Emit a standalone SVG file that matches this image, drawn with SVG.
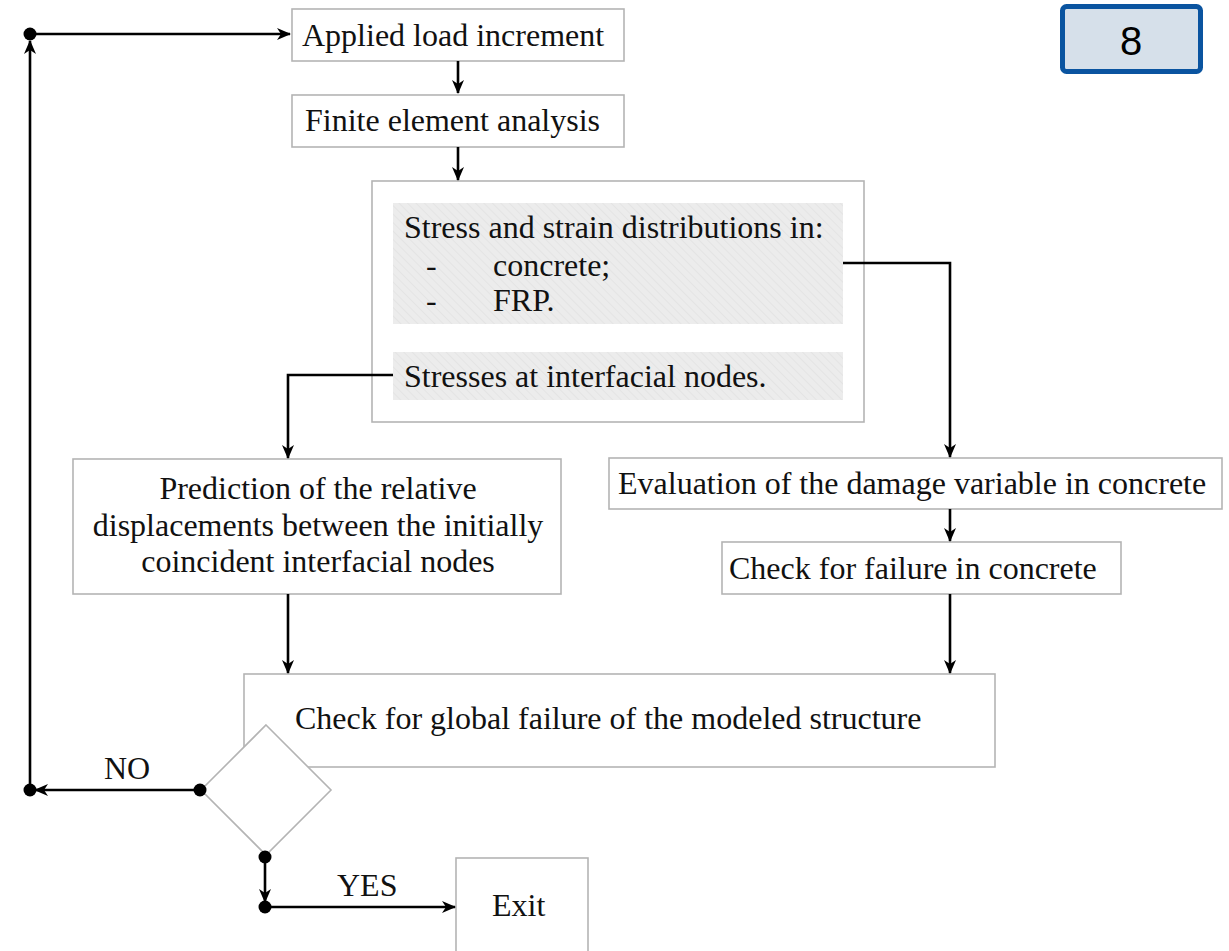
<svg xmlns="http://www.w3.org/2000/svg" width="1229" height="951" viewBox="0 0 1229 951">
<style>
.box{fill:#fff;stroke:#b4b4b4;stroke-width:1.6}
.shade{fill:url(#hatch);stroke:none}
.t{font-family:"Liberation Serif","Times New Roman",serif;font-size:32px;fill:#111}
.c{fill:none;stroke:#000;stroke-width:2.6}
.dot{fill:#000}
</style>
<defs>
<pattern id="hatch" width="6" height="6" patternUnits="userSpaceOnUse" patternTransform="rotate(-45)">
<rect width="6" height="6" fill="#ececec"/>
<line x1="0" y1="0" x2="0" y2="6" stroke="#e2e2e2" stroke-width="1.5"/>
</pattern>
<marker id="ah" viewBox="0 0 14 12" markerWidth="14" markerHeight="12" refX="13" refY="6" orient="auto" markerUnits="userSpaceOnUse">
<path d="M0,0 L14,6 L0,12 L4,6 z" fill="#000"/>
</marker>
</defs>
<rect width="1229" height="951" fill="#fff"/>

<g id="applied">
<rect class="box" x="292" y="9" width="332" height="52"/>
<text class="t" x="302" y="46">Applied load increment</text>
</g>
<g id="fea">
<rect class="box" x="292" y="95" width="332" height="52"/>
<text class="t" x="305" y="131">Finite element analysis</text>
</g>
<g id="container">
<rect class="box" x="372" y="181" width="492" height="241"/>
</g>
<g id="distributions">
<rect class="shade" x="393" y="203" width="450" height="121"/>
<text class="t" x="404" y="238">Stress and strain distributions in:</text>
<text class="t" x="426" y="276">-</text>
<text class="t" x="493" y="276">concrete;</text>
<text class="t" x="426" y="311">-</text>
<text class="t" x="493" y="311">FRP.</text>
</g>
<g id="interfacial">
<rect class="shade" x="393" y="352" width="450" height="48"/>
<text class="t" x="404" y="387">Stresses at interfacial nodes.</text>
</g>
<g id="prediction">
<rect class="box" x="73" y="459" width="488" height="135"/>
<text class="t" x="318" y="499" text-anchor="middle">Prediction of the relative</text>
<text class="t" x="318" y="536" text-anchor="middle">displacements between the initially</text>
<text class="t" x="318" y="572" text-anchor="middle">coincident interfacial nodes</text>
</g>
<g id="evaluation">
<rect class="box" x="609" y="458" width="613" height="51"/>
<text class="t" x="618" y="494">Evaluation of the damage variable in concrete</text>
</g>
<g id="checkconcrete">
<rect class="box" x="722" y="542" width="399" height="52"/>
<text class="t" x="729" y="579">Check for failure in concrete</text>
</g>
<g id="global">
<rect class="box" x="244" y="674" width="751" height="93"/>
<text class="t" x="295" y="729">Check for global failure of the modeled structure</text>
</g>
<g id="decision">
<polygon points="266,725 331,790 266,855 201,790" fill="#fff" stroke="#b4b4b4" stroke-width="1.6"/>
</g>
<g id="exit">
<rect class="box" x="456" y="858" width="132" height="100"/>
<text class="t" x="492" y="916">Exit</text>
</g>
<g id="badge">
<rect x="1062.5" y="6.5" width="138" height="65" rx="4" fill="#d6e0ea" stroke="#0a54a0" stroke-width="5"/>
<text x="1131" y="55" text-anchor="middle" font-family="Liberation Sans, Arial, sans-serif" font-size="40" fill="#000">8</text>
</g>

<g id="connectors">
<line class="c" x1="458" y1="61" x2="458" y2="93" marker-end="url(#ah)"/>
<line class="c" x1="458" y1="147" x2="458" y2="180" marker-end="url(#ah)"/>
<polyline class="c" points="843,263 950,263 950,457" marker-end="url(#ah)"/>
<polyline class="c" points="393,375 288,375 288,458" marker-end="url(#ah)"/>
<line class="c" x1="950" y1="509" x2="950" y2="541" marker-end="url(#ah)"/>
<line class="c" x1="950" y1="594" x2="950" y2="673" marker-end="url(#ah)"/>
<line class="c" x1="288" y1="594" x2="288" y2="673" marker-end="url(#ah)"/>
<line class="c" x1="200" y1="790" x2="35" y2="790" marker-end="url(#ah)"/>
<line class="c" x1="30" y1="790" x2="30" y2="41" marker-end="url(#ah)"/>
<line class="c" x1="30" y1="34" x2="290" y2="34" marker-end="url(#ah)"/>
<line class="c" x1="265" y1="857" x2="265" y2="902" marker-end="url(#ah)"/>
<line class="c" x1="265" y1="907" x2="455" y2="907" marker-end="url(#ah)"/>
<circle class="dot" cx="30" cy="34" r="6.5"/>
<circle class="dot" cx="30" cy="790" r="6.5"/>
<circle class="dot" cx="200" cy="790" r="6.5"/>
<circle class="dot" cx="265" cy="857" r="6.5"/>
<circle class="dot" cx="265" cy="907" r="6.5"/>
<text class="t" x="104" y="779">NO</text>
<text class="t" x="337" y="896">YES</text>
</g>
</svg>
